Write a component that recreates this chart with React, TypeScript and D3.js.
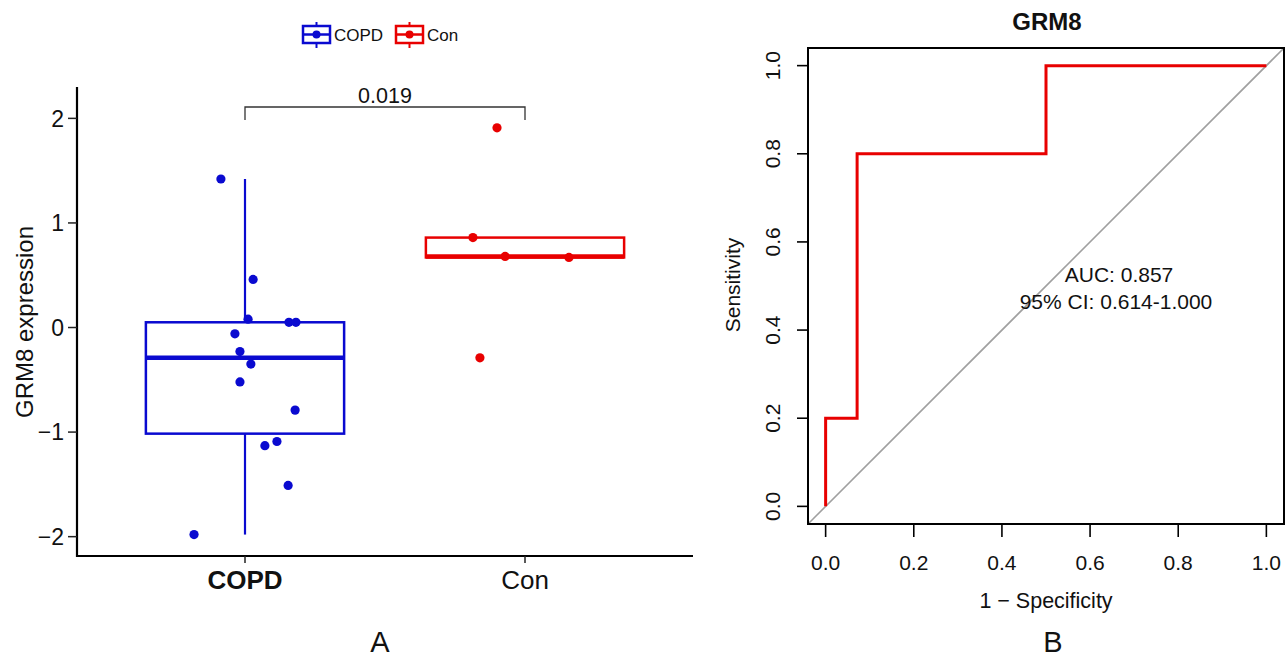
import React, { useEffect, useRef } from "react";
import * as d3 from "d3";

// panel A: GRM8 expression per group (jitter = horizontal offset in category steps)
const groups = ["COPD", "Con"];
const copdValues = [1.42, 0.46, 0.08, 0.05, 0.05, -0.06, -0.23, -0.35, -0.52, -0.79, -1.09, -1.13, -1.51, -1.98];
const copdJitter = [-0.086, 0.029, 0.011, 0.157, 0.182, -0.036, -0.018, 0.021, -0.018, 0.179, 0.114, 0.071, 0.154, -0.182];
const conValues = [1.91, 0.86, 0.68, 0.67, -0.29];
const conJitter = [-0.1, -0.186, -0.071, 0.157, -0.161];
const yTicksA = [-2, -1, 0, 1, 2];
const pValue = "0.019";

// panel B: ROC curve
const fpr = [0, 0, 1 / 14, 1 / 14, 7 / 14, 7 / 14, 1];
const tpr = [0, 0.2, 0.2, 0.8, 0.8, 1, 1];
const rocTicks = [0, 0.2, 0.4, 0.6, 0.8, 1];
const aucText = "AUC: 0.857";
const ciText = "95% CI: 0.614-1.000";

const colors = ["#0a0ad0", "#e80000"];
const font = "Arial, 'Liberation Sans', sans-serif";

export default function App() {
  const ref = useRef<SVGSVGElement>(null);

  useEffect(() => {
    const svg = d3.select(ref.current);
    svg.selectAll("*").remove();

    // ---------- panel A ----------
    const left = 77,
      right = 693,
      top = 87,
      bottom = 556;
    const x = d3.scalePoint().domain(groups).range([left, right]).padding(0.6);
    const y = d3.scaleLinear().domain([-2.185, 2.3]).range([bottom, top]);
    const step = x.step();
    const boxHalf = step * 0.354;

    const a = svg.append("g").attr("font-family", font);

    const series = [
      { name: "COPD", values: copdValues, jitter: copdJitter, color: colors[0] },
      { name: "Con", values: conValues, jitter: conJitter, color: colors[1] },
    ];

    series.forEach((s) => {
      const sorted = s.values.slice().sort(d3.ascending);
      const q1 = d3.quantile(sorted, 0.25)!;
      const med = d3.quantile(sorted, 0.5)!;
      const q3 = d3.quantile(sorted, 0.75)!;
      const iqr = q3 - q1;
      const lo = d3.min(sorted.filter((v) => v >= q1 - 1.5 * iqr))!;
      const hi = d3.max(sorted.filter((v) => v <= q3 + 1.5 * iqr))!;
      const cx = x(s.name)!;
      const g = a.append("g").attr("stroke", s.color).attr("fill", "none");
      g.append("line").attr("x1", cx).attr("x2", cx).attr("y1", y(q3)).attr("y2", y(hi)).attr("stroke-width", 2.2);
      g.append("line").attr("x1", cx).attr("x2", cx).attr("y1", y(q1)).attr("y2", y(lo)).attr("stroke-width", 2.2);
      g.append("rect")
        .attr("x", cx - boxHalf)
        .attr("width", boxHalf * 2)
        .attr("y", y(q3))
        .attr("height", y(q1) - y(q3))
        .attr("fill", "white")
        .attr("stroke-width", 2.5);
      g.append("line")
        .attr("x1", cx - boxHalf)
        .attr("x2", cx + boxHalf)
        .attr("y1", y(med))
        .attr("y2", y(med))
        .attr("stroke-width", 4.5);

      a.append("g")
        .selectAll("circle")
        .data(s.values)
        .enter()
        .append("circle")
        .attr("cx", (d, i) => cx + s.jitter[i] * step)
        .attr("cy", (d) => y(d))
        .attr("r", 4.6)
        .attr("fill", s.color);
    });

    // axes
    const yAxis = a.append("g").attr("transform", `translate(${left},0)`);
    yAxis.append("line").attr("x1", 0).attr("x2", 0).attr("y1", top).attr("y2", bottom + 1).attr("stroke", "#000").attr("stroke-width", 2.2);
    yTicksA.forEach((t) => {
      yAxis.append("line").attr("x1", -9).attr("x2", 0).attr("y1", y(t)).attr("y2", y(t)).attr("stroke", "#222").attr("stroke-width", 1.5);
      yAxis
        .append("text")
        .attr("x", -13)
        .attr("y", y(t))
        .attr("dy", "0.36em")
        .attr("text-anchor", "end")
        .attr("font-size", 23)
        .attr("fill", "#111")
        .text(t < 0 ? "\u2212" + Math.abs(t) : String(t));
    });
    a.append("line").attr("x1", left - 1).attr("x2", right).attr("y1", bottom).attr("y2", bottom).attr("stroke", "#000").attr("stroke-width", 2.2);
    groups.forEach((gname) => {
      a.append("line").attr("x1", x(gname)!).attr("x2", x(gname)!).attr("y1", bottom).attr("y2", bottom + 7).attr("stroke", "#222").attr("stroke-width", 1.5);
      a.append("text")
        .attr("x", x(gname)!)
        .attr("y", 589)
        .attr("text-anchor", "middle")
        .attr("font-size", 26)
        .attr("font-weight", gname === "COPD" ? "bold" : "normal")
        .attr("fill", "#111")
        .text(gname);
    });
    a.append("text")
      .attr("transform", `translate(33,322) rotate(-90)`)
      .attr("text-anchor", "middle")
      .attr("font-size", 24)
      .attr("fill", "#111")
      .text("GRM8 expression");

    // significance bracket
    const x0 = x(groups[0])!,
      x1 = x(groups[1])!;
    a.append("path")
      .attr("d", `M${x0},120V107H${x1}V120`)
      .attr("fill", "none")
      .attr("stroke", "#333")
      .attr("stroke-width", 1.3);
    a.append("text").attr("x", (x0 + x1) / 2).attr("y", 103).attr("text-anchor", "middle").attr("font-size", 21.5).attr("fill", "#111").text(pValue);

    // legend
    const leg = a.append("g");
    const legX = [303, 396];
    series.forEach((s, i) => {
      const lx = legX[i];
      const gi = leg.append("g").attr("stroke", s.color).attr("fill", "none");
      gi.append("line").attr("x1", lx + 13.5).attr("x2", lx + 13.5).attr("y1", 22).attr("y2", 48).attr("stroke-width", 2);
      gi.append("rect").attr("x", lx).attr("y", 26).attr("width", 27).attr("height", 17).attr("fill", "white").attr("stroke-width", 2.5);
      gi.append("line").attr("x1", lx).attr("x2", lx + 27).attr("y1", 34.5).attr("y2", 34.5).attr("stroke-width", 2.5);
      leg.append("circle").attr("cx", lx + 13.5).attr("cy", 34.5).attr("r", 4).attr("fill", s.color);
      leg.append("text").attr("x", lx + 31).attr("y", 41).attr("font-size", 17).attr("fill", "#111").text(s.name);
    });

    a.append("text").attr("x", 380).attr("y", 652).attr("text-anchor", "middle").attr("font-size", 29).attr("fill", "#111").text("A");

    // ---------- panel B ----------
    const bx = d3.scaleLinear().domain([-0.04, 1.04]).range([808, 1284]);
    const by = d3.scaleLinear().domain([-0.04, 1.04]).range([524, 48]);
    const b = svg.append("g").attr("font-family", font);

    b.append("line")
      .attr("x1", bx(-0.04))
      .attr("y1", by(-0.04))
      .attr("x2", bx(1.04))
      .attr("y2", by(1.04))
      .attr("stroke", "#a0a0a0")
      .attr("stroke-width", 1.6);

    const line = d3
      .line<number>()
      .x((d) => bx(d))
      .y((d, i) => by(tpr[i]));
    b.append("path").attr("d", line(fpr)).attr("fill", "none").attr("stroke", "#e80000").attr("stroke-width", 3);

    b.append("rect")
      .attr("x", 808)
      .attr("y", 48)
      .attr("width", 1284 - 808)
      .attr("height", 524 - 48)
      .attr("fill", "none")
      .attr("stroke", "#000")
      .attr("stroke-width", 2);

    rocTicks.forEach((t) => {
      b.append("line").attr("x1", 797).attr("x2", 808).attr("y1", by(t)).attr("y2", by(t)).attr("stroke", "#000").attr("stroke-width", 1.6);
      b.append("text")
        .attr("transform", `translate(780,${by(t)}) rotate(-90)`)
        .attr("text-anchor", "middle")
        .attr("font-size", 21)
        .attr("fill", "#111")
        .text(t.toFixed(1));
      b.append("line").attr("x1", bx(t)).attr("x2", bx(t)).attr("y1", 524).attr("y2", 537).attr("stroke", "#000").attr("stroke-width", 1.6);
      b.append("text").attr("x", bx(t)).attr("y", 570).attr("text-anchor", "middle").attr("font-size", 21).attr("fill", "#111").text(t.toFixed(1));
    });

    b.append("text").attr("x", 1046).attr("y", 608).attr("text-anchor", "middle").attr("font-size", 21.5).attr("fill", "#111").text("1 \u2212 Specificity");
    b.append("text")
      .attr("transform", `translate(740,285) rotate(-90)`)
      .attr("text-anchor", "middle")
      .attr("font-size", 21)
      .attr("fill", "#111")
      .text("Sensitivity");
    b.append("text").attr("x", 1047).attr("y", 30).attr("text-anchor", "middle").attr("font-size", 24).attr("font-weight", "bold").attr("fill", "#111").text("GRM8");
    b.append("text").attr("x", 1119).attr("y", 282).attr("text-anchor", "middle").attr("font-size", 21).attr("fill", "#111").text(aucText);
    b.append("text").attr("x", 1116).attr("y", 309).attr("text-anchor", "middle").attr("font-size", 21).attr("fill", "#111").text(ciText);
    b.append("text").attr("x", 1053).attr("y", 652).attr("text-anchor", "middle").attr("font-size", 29).attr("fill", "#111").text("B");
  }, []);

  return (
    <svg
      ref={ref}
      width={1285}
      height={659}
      style={{ position: "absolute", left: 0, top: 0, background: "white" }}
    />
  );
}
